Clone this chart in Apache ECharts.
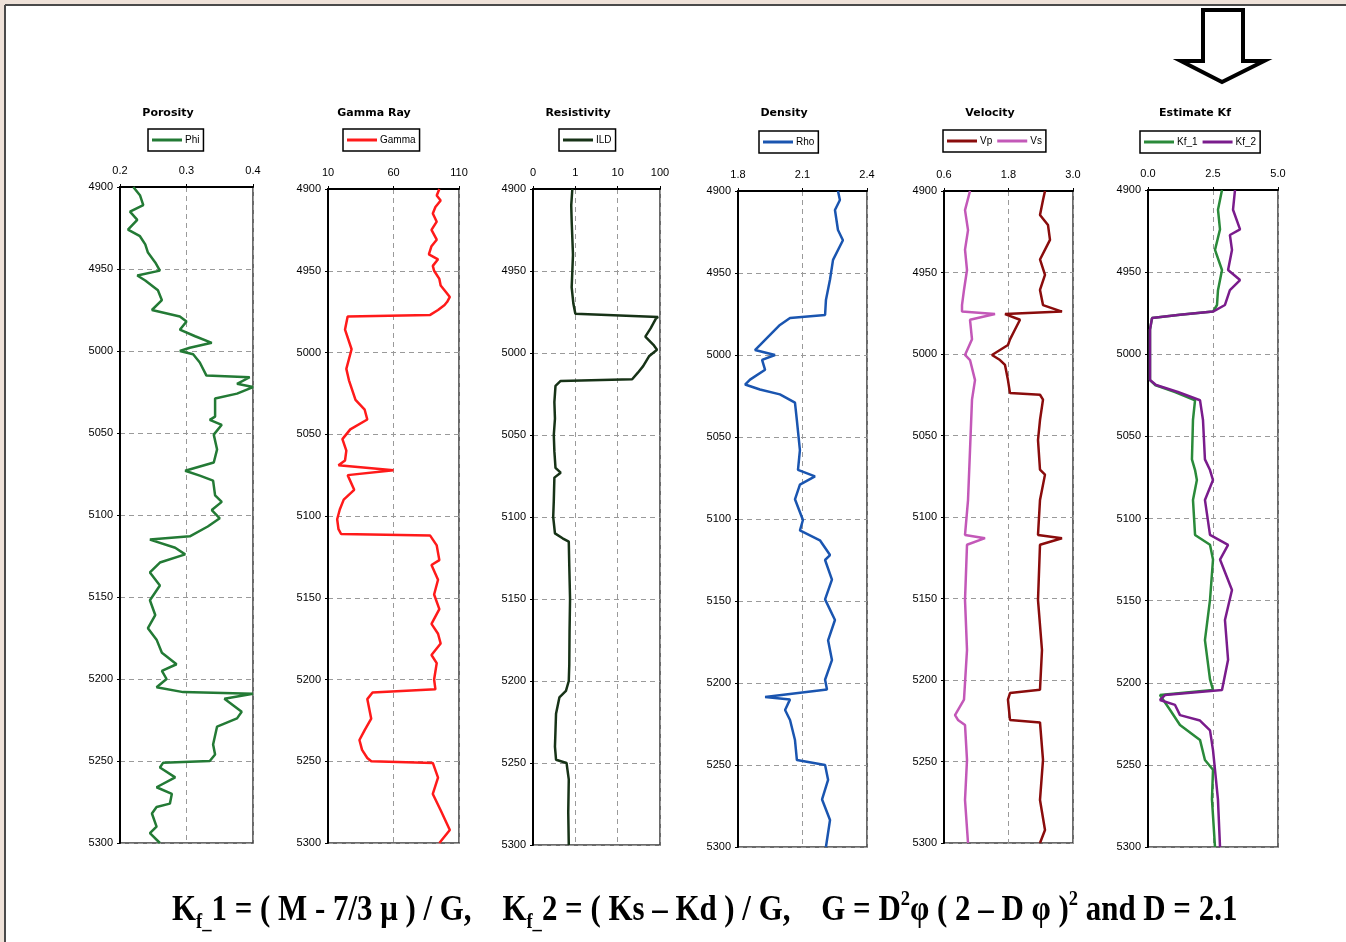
<!DOCTYPE html>
<html><head><meta charset="utf-8">
<script src="https://cdn.jsdelivr.net/npm/echarts@6/dist/echarts.min.js"></script>
<style>html,body{margin:0;padding:0;background:#efe2d9;}#c{width:1346px;height:942px;}</style>
</head><body><div id="c"></div>
<script>
// ---------------- DATA ----------------
const phiDepth = [4900,4905,4911,4915,4920,4926,4930,4935,4940,4946,4951,4954,4957,4963,4969,4975,4979,4982,4987,4991,4995,4998,5000,5002,5007,5015,5016,5020,5022,5026,5029,5040,5042,5045,5051,5060,5068,5073,5076,5079,5088,5092,5097,5102,5107,5113,5115,5120,5124,5129,5135,5143,5152,5161,5169,5176,5184,5191,5195,5200,5205,5208,5209,5212,5220,5224,5229,5240,5246,5250,5251,5254,5260,5266,5270,5276,5278,5282,5290,5294,5300];
const phiVal = [0.220,0.230,0.235,0.215,0.226,0.212,0.230,0.238,0.242,0.253,0.260,0.226,0.238,0.257,0.263,0.248,0.290,0.300,0.290,0.313,0.338,0.305,0.290,0.310,0.320,0.330,0.395,0.376,0.400,0.376,0.343,0.343,0.335,0.353,0.341,0.346,0.341,0.298,0.320,0.340,0.343,0.353,0.338,0.350,0.332,0.305,0.245,0.283,0.298,0.260,0.245,0.260,0.245,0.253,0.242,0.255,0.263,0.285,0.263,0.270,0.255,0.295,0.400,0.357,0.383,0.376,0.346,0.340,0.343,0.335,0.265,0.260,0.283,0.255,0.278,0.275,0.255,0.248,0.255,0.245,0.260];

const gamDepth = [4900,4904,4907,4911,4915,4920,4925,4931,4935,4940,4943,4947,4950,4955,4959,4963,4966,4969,4971,4974,4977,4978,4986,4998,5010,5017,5029,5035,5041,5047,5053,5060,5066,5069,5072,5075,5084,5090,5096,5102,5108,5111,5112,5118,5127,5130,5139,5148,5157,5166,5172,5178,5185,5190,5200,5206,5208,5212,5224,5231,5237,5243,5248,5250,5251,5260,5270,5280,5292,5300];
const gamVal = [95,93,96,92,90,93,89,93,89,87,94,90,91,95,96,100,103,101,99,94,88,25,23,28,24,26,31,38,40,27,21,24,23,18,60,25,30,22,19,17,18,20,88,93,95,89,94,91,95,89,94,96,89,93,91,92,44,40,43,38,34,36,40,43,90,94,90,96,103,95];

const ildDepth = [4900,4910,4920,4930,4940,4950,4960,4970,4976,4978,4979,4985,4990,4995,4998,5002,5008,5012,5016,5017,5020,5030,5040,5050,5060,5070,5073,5076,5090,5100,5110,5113,5115,5130,5150,5170,5190,5200,5206,5210,5220,5230,5240,5248,5250,5260,5280,5300];
const ildVal = [0.85,0.8,0.82,0.85,0.88,0.85,0.82,0.9,1.0,90,80,60,45,70,85,55,40,30,22,0.45,0.34,0.32,0.33,0.31,0.32,0.34,0.45,0.32,0.31,0.3,0.33,0.5,0.7,0.72,0.75,0.73,0.72,0.7,0.6,0.42,0.35,0.34,0.33,0.35,0.62,0.7,0.68,0.7];

const rhoDepth = [4900,4905.5,4911.6,4923.8,4930,4942,4954,4966.5,4975.6,4977.4,4981.7,4987.8,4994,4997,5000,5003,5009,5015,5018,5021,5024,5029,5040,5058,5070,5074,5079,5088,5100.6,5107,5113,5122,5125,5137,5149,5161.6,5174,5186,5198,5204,5208.5,5210,5216.5,5222.6,5234.8,5247,5250,5259,5271,5283.5,5300];
const rhoVal = [2.265,2.274,2.251,2.265,2.288,2.242,2.228,2.209,2.205,2.042,1.995,1.949,1.902,1.879,1.972,1.912,1.926,1.856,1.833,1.902,1.995,2.065,2.074,2.088,2.079,2.158,2.088,2.065,2.102,2.088,2.181,2.228,2.205,2.237,2.205,2.251,2.219,2.237,2.205,2.214,1.926,2.042,2.019,2.042,2.065,2.074,2.205,2.219,2.191,2.228,2.209];

const vpDepth = [4900,4905.5,4914.7,4920.9,4930,4942,4951.5,4960.7,4970,4974,4975.5,4979,4985,4991,4994.5,5000.6,5003.7,5006.7,5016,5024,5025,5028,5040.5,5052.8,5071,5074,5089.6,5111,5113,5117,5151,5181.6,5206,5208,5212,5224.5,5226,5249,5273.6,5292,5300];
const vpVal = [2.479,2.442,2.386,2.535,2.572,2.386,2.479,2.386,2.442,2.795,1.735,2.014,1.921,1.828,1.790,1.493,1.642,1.735,1.790,1.828,2.386,2.442,2.386,2.349,2.386,2.479,2.386,2.349,2.795,2.386,2.349,2.423,2.386,1.828,1.790,1.828,2.386,2.442,2.386,2.479,2.386];

const vsDepth = [4900,4911.7,4924,4936,4948.5,4960.7,4970,4974,4975.5,4979,4991,5000.6,5003.7,5016,5028,5059,5089.6,5111,5113,5117,5151,5181.6,5212,5221.5,5224.5,5227.6,5249,5273.6,5300];
const vsVal = [1.084,0.991,1.047,0.991,1.028,0.972,0.935,0.935,1.549,1.084,1.121,0.991,1.084,1.177,1.121,1.084,1.047,0.991,1.363,1.028,0.991,1.028,0.972,0.805,0.860,0.991,1.028,0.991,1.047];

const kf1Depth = [4900,4912,4924,4936.5,4948.7,4961,4970,4974,4976,4978,4985,5015.7,5018.7,5023,5028,5040,5064,5070.5,5076.6,5088.7,5110,5116,5125,5149.6,5174,5198,5204.4,5207.5,5216.6,5225.7,5234.8,5247,5253,5271,5300];
const kf1Val = [2.846,2.692,2.769,2.577,2.846,2.692,2.654,2.500,1.230,0.154,0.077,0.077,0.270,1.040,1.810,1.730,1.690,1.810,1.880,1.730,1.810,2.385,2.500,2.385,2.190,2.385,2.500,0.460,0.850,1.230,2.000,2.190,2.500,2.460,2.577];

const kf2Depth = [4900,4912,4924,4927.4,4936.5,4948.7,4954.8,4961,4970,4974,4976,4978,4985,5015.7,5018.7,5023,5028,5040,5064,5070.5,5076.6,5088.7,5110,5116,5125,5143.5,5161.8,5186,5204.4,5207.5,5210.5,5213.5,5219.7,5223,5229,5241,5253,5271,5300];
const kf2Val = [3.346,3.270,3.540,3.150,3.230,3.080,3.540,3.150,2.960,2.500,1.230,0.154,0.077,0.077,0.310,1.150,2.000,2.115,2.190,2.385,2.500,2.190,2.385,3.080,2.770,3.230,2.960,3.080,2.846,0.654,0.460,1.040,1.230,2.000,2.385,2.500,2.577,2.690,2.770];

const trackTitles = ['Porosity','Gamma Ray','Resistivity','Density','Velocity','Estimate Kf'];
const xTicks = [[0.2,0.3,0.4],[10,60,110],[0.1,1,10,100],[1.8,2.1,2.4],[0.6,1.8,3.0],[0,2.5,5]];
const xTickLabels = [['0.2','0.3','0.4'],['10','60','110'],['0','1','10','100'],['1.8','2.1','2.4'],['0.6','1.8','3.0'],['0.0','2.5','5.0']];

// ---------------- LAYOUT ----------------
const grids = [
  {left:120, top:187, width:133, height:656},
  {left:328, top:189, width:131, height:654},
  {left:533, top:189, width:127, height:656},
  {left:738, top:191, width:129, height:656},
  {left:944, top:191, width:129, height:652},
  {left:1148, top:190, width:130, height:657}
];
const titleCenters = [163,369,573,779,985,1190];
const legendPos = [[148,129],[343,129],[559,129],[759,131],[943,130],[1140,131]];

const curves = [
  {name:'Phi', track:0, d:phiDepth, v:phiVal, color:'#237a35'},
  {name:'Gamma', track:1, d:gamDepth, v:gamVal, color:'#ff1a1a'},
  {name:'ILD', track:2, d:ildDepth, v:ildVal, color:'#173317'},
  {name:'Rho', track:3, d:rhoDepth, v:rhoVal, color:'#1a55b0'},
  {name:'Vp', track:4, d:vpDepth, v:vpVal, color:'#8a0c0c'},
  {name:'Vs', track:4, d:vsDepth, v:vsVal, color:'#c358b8'},
  {name:'Kf_1', track:5, d:kf1Depth, v:kf1Val, color:'#2a8a3a'},
  {name:'Kf_2', track:5, d:kf2Depth, v:kf2Val, color:'#7a1c8c'}
];

const FONT = 'Liberation Sans';
const dashed = {show:true, lineStyle:{color:'#9a9a9a', type:[5,4], width:1}};

const option = {
  animation:false,
  backgroundColor:'#efe2d9',
  title: trackTitles.map((t,i)=>({
    text:t, left:titleCenters[i], top:103, textAlign:'center',
    textStyle:{fontFamily:'DejaVu Sans', fontWeight:'bold', fontSize:11, color:'#000'}
  })),
  legend: legendPos.map((p,i)=>({
    left:p[0], top:p[1], orient:'horizontal', selectedMode:false,
    data: curves.filter(c=>c.track===i).map(c=>c.name),
    icon:'rect', itemWidth:30, itemHeight:3, itemGap:5,
    padding:[6,4,6,4], borderColor:'#000', borderWidth:1.5,
    textStyle:{fontFamily:FONT, fontSize:10, color:'#000', padding:[0,0,0,-2]}
  })),
  grid: grids.map(g=>Object.assign({show:true, borderColor:'#3a3a3a', borderWidth:1.5, backgroundColor:'#fff'}, g)),
  xAxis: grids.map((g,i)=>{
    const isLog = i===2;
    return {
      type: isLog?'log':'value', logBase:10, gridIndex:i, position:'top',
      min:xTicks[i][0], max:xTicks[i][xTicks[i].length-1],
      axisLine:{show:true, onZero:false, lineStyle:{color:'#000', width:2}},
      axisTick:{show:true, inside:false, length:3, lineStyle:{color:'#000'}, customValues:xTicks[i]},
      axisLabel:{show:true, margin:11, fontFamily:FONT, fontSize:11, color:'#000',
        customValues:xTicks[i],
        formatter:(v)=>{ const k = xTicks[i].findIndex(t=>Math.abs(t-v)<1e-6*Math.max(1,Math.abs(t))); return k>=0?xTickLabels[i][k]:''; }},
      splitLine:dashed
    };
  }),
  yAxis: grids.map((g,i)=>({
    type:'value', gridIndex:i, inverse:true, min:4900, max:5300, interval:50,
    axisLine:{show:true, onZero:false, lineStyle:{color:'#000', width:2}},
    axisTick:{show:true, length:3, lineStyle:{color:'#000'}},
    axisLabel:{show:true, margin:7, fontFamily:FONT, fontSize:11, color:'#000', showMinLabel:true, showMaxLabel:true,
      formatter:(v)=>String(v)},
    splitLine:dashed
  })),
  series: curves.map(c=>({
    type:'line', name:c.name, xAxisIndex:c.track, yAxisIndex:c.track,
    data:c.d.map((d,k)=>[c.v[k], d]),
    showSymbol:false, symbol:'none', clip:true,
    lineStyle:{color:c.color, width:2.5}, itemStyle:{color:c.color}
  })),
  graphic:[
    {type:'rect', z:-100, silent:true, shape:{x:5,y:5,width:1341,height:937}, style:{fill:'#fff'}},
    {type:'line', silent:true, shape:{x1:5,y1:5,x2:1346,y2:5}, style:{stroke:'#4a4a4a', lineWidth:2}},
    {type:'line', silent:true, shape:{x1:5,y1:5,x2:5,y2:942}, style:{stroke:'#4a4a4a', lineWidth:2}},
    {type:'polygon', silent:true,
      shape:{points:[[1203,10],[1243,10],[1243,61],[1264,61],[1222,82],[1181,61],[1203,61]]},
      style:{fill:'#fff', stroke:'#000', lineWidth:4, lineJoin:'miter'}},
    {type:'group', x:172, y:911, scaleX:0.883, silent:true, children:[
      {type:'text', x:0, y:0,
        style:{
          text:'{n|K}{s|f_}{n|1 = ( M - 7/3 μ ) / G,    K}{s|f_}{n|2 = ( Ks – Kd ) / G,    G = D}{p|2}{n|φ ( 2 – D φ )}{p|2}{n| and D = 2.1}',
          verticalAlign:'middle', align:'left',
          rich:{
            n:{fontFamily:'Liberation Serif', fontWeight:'bold', fontSize:35, color:'#000', lineHeight:44, verticalAlign:'middle'},
            s:{fontFamily:'Liberation Serif', fontWeight:'bold', fontSize:21, color:'#000', lineHeight:21, verticalAlign:'bottom'},
            p:{fontFamily:'Liberation Serif', fontWeight:'bold', fontSize:21, color:'#000', lineHeight:21, verticalAlign:'top'}
          }
        }}
    ]}
  ]
};
const chart = echarts.init(document.getElementById('c'));
chart.setOption(option);
</script>
</body></html>
